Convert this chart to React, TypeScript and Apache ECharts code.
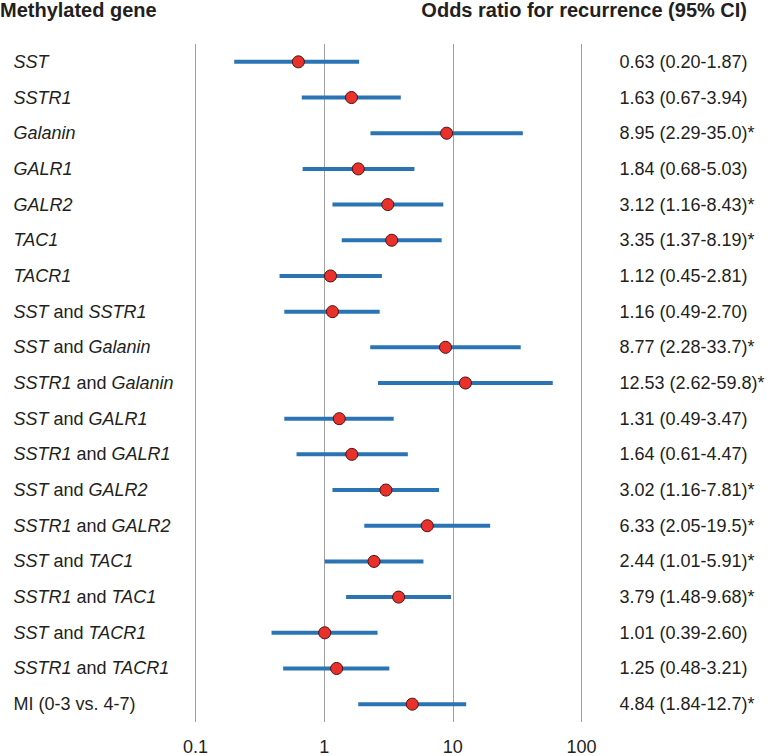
import React, { useEffect, useRef } from "react";
import * as echarts from "echarts";

const genes: string[] = [
  "SST", "SSTR1", "Galanin", "GALR1", "GALR2", "TAC1", "TACR1",
  "SST and SSTR1", "SST and Galanin", "SSTR1 and Galanin", "SST and GALR1",
  "SSTR1 and GALR1", "SST and GALR2", "SSTR1 and GALR2", "SST and TAC1",
  "SSTR1 and TAC1", "SST and TACR1", "SSTR1 and TACR1", "MI (0-3 vs. 4-7)",
];
const italicNames: boolean[] = [
  true, true, true, true, true, true, true, true, true, true, true,
  true, true, true, true, true, true, true, false,
];
const oddsRatio: number[] = [0.63, 1.63, 8.95, 1.84, 3.12, 3.35, 1.12, 1.16, 8.77, 12.53, 1.31, 1.64, 3.02, 6.33, 2.44, 3.79, 1.01, 1.25, 4.84];
const ciLow: number[] = [0.20, 0.67, 2.29, 0.68, 1.16, 1.37, 0.45, 0.49, 2.28, 2.62, 0.49, 0.61, 1.16, 2.05, 1.01, 1.48, 0.39, 0.48, 1.84];
const ciHigh: number[] = [1.87, 3.94, 35.0, 5.03, 8.43, 8.19, 2.81, 2.70, 33.7, 59.8, 3.47, 4.47, 7.81, 19.5, 5.91, 9.68, 2.60, 3.21, 12.7];
const ciText: string[] = [
  "0.63 (0.20-1.87)", "1.63 (0.67-3.94)", "8.95 (2.29-35.0)*", "1.84 (0.68-5.03)",
  "3.12 (1.16-8.43)*", "3.35 (1.37-8.19)*", "1.12 (0.45-2.81)", "1.16 (0.49-2.70)",
  "8.77 (2.28-33.7)*", "12.53 (2.62-59.8)*", "1.31 (0.49-3.47)", "1.64 (0.61-4.47)",
  "3.02 (1.16-7.81)*", "6.33 (2.05-19.5)*", "2.44 (1.01-5.91)*", "3.79 (1.48-9.68)*",
  "1.01 (0.39-2.60)", "1.25 (0.48-3.21)", "4.84 (1.84-12.7)*",
];
const xTicks: number[] = [0.1, 1, 10, 100];

const FONT = "'Liberation Sans', Arial, sans-serif";
const TEXT = "#231f20";
const FS = 18;

export default function App() {
  const ref = useRef<HTMLDivElement>(null);
  useEffect(() => {
    if (!ref.current) return;
    const chart = echarts.init(ref.current, undefined, { renderer: "svg" });
    const idx = genes.map((_, i) => i);
    const option: any = {
      animation: false,
      backgroundColor: "#ffffff",
      textStyle: { fontFamily: FONT },
      graphic: [
        {
          type: "text", left: 0, top: 0,
          style: { text: "Methylated gene", font: `bold 20px ${FONT}`, fill: TEXT },
        },
        {
          type: "text", right: 23, top: 0,
          style: { text: "Odds ratio for recurrence (95% CI)", font: `bold 20px ${FONT}`, fill: TEXT },
        },
      ],
      grid: { left: 195.5, right: 188.5, top: 44, bottom: 33, containLabel: false },
      xAxis: {
        type: "log",
        logBase: 10,
        min: 0.1,
        max: 100,
        axisLine: { show: false },
        axisTick: { show: false },
        splitLine: { show: true, lineStyle: { color: "#a0a0a0", width: 1 } },
        axisLabel: {
          fontSize: FS, color: TEXT, fontFamily: FONT, margin: 16,
          formatter: (v: number) => {
            const m = xTicks.find((t) => Math.abs(t - v) / t < 1e-6);
            return m !== undefined ? String(m) : "";
          },
        },
      },
      yAxis: [
        {
          type: "category",
          data: genes,
          inverse: true,
          axisLine: { show: false },
          axisTick: { show: false },
          splitLine: { show: false },
          axisLabel: {
            align: "left",
            margin: 182,
            fontSize: FS,
            color: TEXT,
            fontFamily: FONT,
            formatter: (v: string) => {
              const i = genes.indexOf(v);
              if (!italicNames[i]) return `{n|${v}}`;
              return v.split(" and ").map((p) => `{i|${p}}`).join("{n| and }");
            },
            rich: {
              i: { fontStyle: "italic", fontSize: FS, color: TEXT, fontFamily: FONT },
              n: { fontSize: FS, color: TEXT, fontFamily: FONT },
            },
          },
        },
        {
          type: "category",
          data: ciText,
          inverse: true,
          position: "right",
          axisLine: { show: false },
          axisTick: { show: false },
          splitLine: { show: false },
          axisLabel: { align: "left", margin: 38, fontSize: FS, color: TEXT, fontFamily: FONT },
        },
      ],
      series: [
        {
          type: "custom",
          yAxisIndex: 0,
          data: idx.map((i) => [ciLow[i], ciHigh[i], i]),
          encode: { x: [0, 1], y: 2 },
          renderItem: (params: any, api: any) => {
            const lo = api.coord([api.value(0), api.value(2)]);
            const hi = api.coord([api.value(1), api.value(2)]);
            return {
              type: "line",
              shape: { x1: lo[0], y1: lo[1], x2: hi[0], y2: hi[1] },
              style: { stroke: "#2b74b4", lineWidth: 4, lineCap: "butt" },
            };
          },
          z: 2,
        },
        {
          type: "scatter",
          yAxisIndex: 0,
          data: idx.map((i) => [oddsRatio[i], i]),
          symbol: "circle",
          symbolSize: 12,
          itemStyle: { color: "#e8312b", borderColor: "#4a0d0d", borderWidth: 1, opacity: 1 },
          z: 3,
        },
      ],
    };
    chart.setOption(option);
    return () => chart.dispose();
  }, []);
  return (
    <div
      ref={ref}
      style={{ position: "fixed", left: 0, top: 0, width: 770, height: 756 }}
    />
  );
}
